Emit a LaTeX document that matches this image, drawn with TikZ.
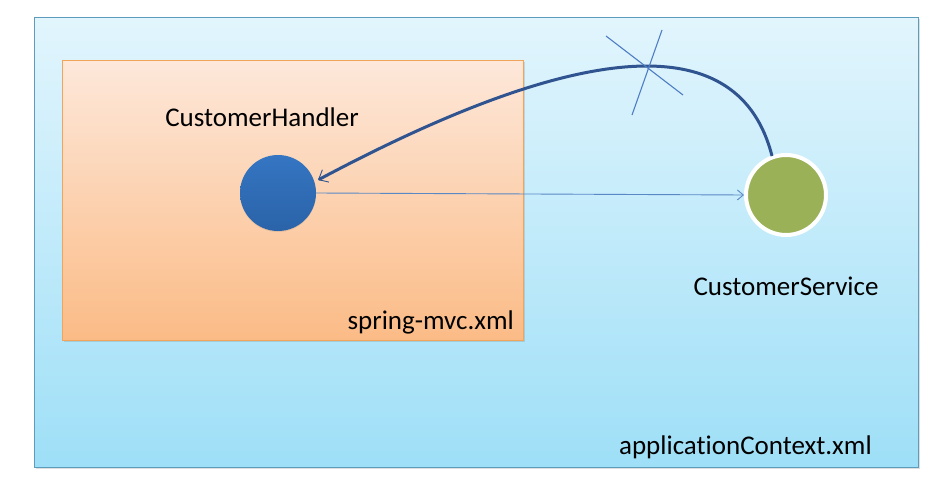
\documentclass[tikz,border=0pt]{standalone}
\usepackage{fontspec}
\setmainfont{Carlito}[Ligatures=NoCommon]
\usetikzlibrary{arrows.meta,shadows}
\definecolor{outerTop}{HTML}{E2F5FD}
\definecolor{outerBot}{HTML}{9EDFF7}
\definecolor{outerLine}{HTML}{5E9CBE}
\definecolor{orTop}{HTML}{FDE8DA}
\definecolor{orBot}{HTML}{FBBB86}
\definecolor{orLine}{HTML}{F0A45C}
\definecolor{blueBall}{HTML}{3575C2}
\definecolor{blueBallDark}{HTML}{2A63A8}
\definecolor{greenBall}{HTML}{9BB158}
\definecolor{curveCol}{HTML}{2F5490}
\definecolor{arrowCol}{HTML}{5A88C4}
\definecolor{crossCol}{HTML}{4F7DC4}
\tikzset{
  lbl/.style={font=\fontsize{27}{30}\selectfont, text=black, inner sep=0pt},
  box/.style={draw, line width=1pt, drop shadow={shadow xshift=1.5pt, shadow yshift=-1.5pt, opacity=0.25}},
}
\begin{document}
\begin{tikzpicture}[x=1pt,y=-1pt]
\useasboundingbox (0,0) rectangle (936,481);
\fill[white] (0,0) rectangle (936,481);
% outer box
\node[box, draw=outerLine, top color=outerTop, bottom color=outerBot, minimum width=884pt, minimum height=450pt, anchor=north west, inner sep=0pt] (outer) at (34,17) {};
% inner box
\node[box, draw=orLine, top color=orTop, bottom color=orBot, minimum width=461pt, minimum height=280pt, anchor=north west, inner sep=0pt] (inner) at (62,60) {};
% circles
\node[circle, minimum size=76pt, inner sep=0pt, top color=blueBall, bottom color=blueBallDark, drop shadow={shadow xshift=0pt, shadow yshift=-1pt, opacity=0.2}] (handler) at (278,193) {};
\node[circle, minimum size=80pt, inner sep=0pt, fill=greenBall, draw=white, line width=4pt, drop shadow={shadow xshift=1pt, shadow yshift=-1pt, opacity=0.2}] (service) at (786,195) {};
% labels
\node[lbl] (hlabel) at (262,117) {CustomerHandler};
\node[lbl] (slabel) at (786,286) {CustomerService};
\node[lbl, anchor=east] (slabel2) at (514,322) {spring-mvc.xml};
\node[lbl, anchor=east] (alabel) at (872,447) {applicationContext.xml};
% straight arrow
\draw[arrowCol, line width=0.9pt, -{Straight Barb[length=6pt,width=10pt]}] (handler.east) -- (service.west);
% curve
\coordinate (cstart) at (772,156);
\coordinate (cend) at (318,180);
\draw[curveCol, line width=3pt, -{Straight Barb[length=8pt,width=14pt,line width=0.9pt]}] (cstart) .. controls (740,30) and (590,35) .. (cend);
% cross
\coordinate (c1a) at (606,36);
\coordinate (c1b) at (683,95);
\coordinate (c2a) at (662,30);
\coordinate (c2b) at (632,115);
\draw[crossCol, line width=1.1pt] (c1a) -- (c1b);
\draw[crossCol, line width=1.1pt] (c2a) -- (c2b);
\end{tikzpicture}
\end{document}
